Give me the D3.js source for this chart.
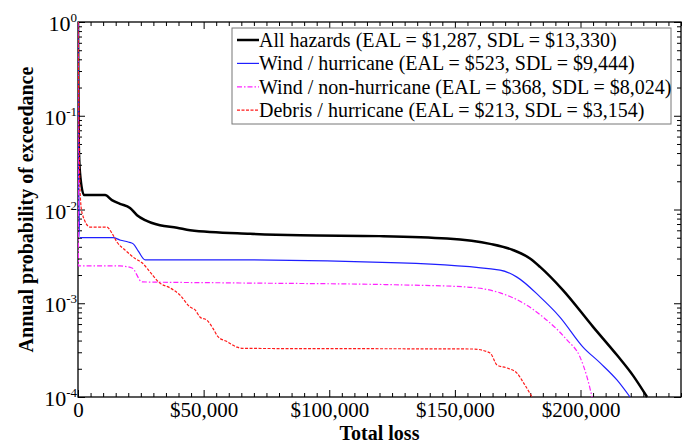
<!DOCTYPE html>
<html><head><meta charset="utf-8">
<script src="https://cdn.jsdelivr.net/npm/d3@7"></script>
<style>
body{margin:0;background:#fff}
svg{display:block}
text{font-family:"Liberation Serif","Times New Roman",serif}
</style>
</head><body>
<svg id="c" width="693" height="444"></svg>
<script>
// ---- data (loss in $, annual probability of exceedance) ----
const seriesNames = [
  "All hazards (EAL = $1,287, SDL = $13,330)",
  "Wind / hurricane (EAL = $523, SDL = $9,444)",
  "Wind / non-hurricane (EAL = $368, SDL = $8,024)",
  "Debris / hurricane (EAL = $213, SDL = $3,154)"
];
const lossAll = [0, 300, 800, 2400, 10750, 13500, 16700, 20700, 23500, 26700, 32600, 39400, 44600, 68500, 88400, 120000, 146900, 164000, 173100, 179900, 183900, 193000, 205000, 214500, 221000, 226500];
const probAll = [1, 0.05, 0.0245, 0.0143, 0.0143, 0.0126, 0.0115, 0.0104, 0.0087, 0.0077, 0.0068, 0.0064, 0.0060, 0.0055, 0.0053, 0.0052, 0.0049, 0.0043, 0.0037, 0.0030, 0.00244, 0.00138, 0.00056, 0.00028, 0.000168, 0.0001];

const lossWindH = [0, 300, 800, 13900, 17000, 20000, 22000, 24000, 26700, 60000, 128200, 168000, 174700, 183900, 191800, 201000, 207800, 214500, 219700];
const probWindH = [1, 0.02, 0.005, 0.005, 0.0047, 0.0045, 0.0043, 0.0036, 0.0029, 0.0029, 0.0027, 0.00226, 0.0019, 0.00117, 0.000713, 0.000341, 0.000231, 0.000152, 0.0001];

const lossWindNH = [0, 200, 16700, 21500, 25500, 60000, 128200, 154800, 168000, 177100, 185100, 194600, 199800, 202600, 204600];
const probWindNH = [1, 0.0025, 0.0025, 0.00238, 0.00169, 0.00165, 0.00157, 0.00149, 0.00129, 0.00101, 0.000713, 0.000406, 0.000267, 0.000163, 0.0001];

const lossDebris = [0, 800, 1600, 4800, 11500, 13500, 15500, 18700, 22700, 25500, 28700, 32600, 36600, 40600, 44600, 46600, 48600, 51300, 53700, 55700, 59300, 63300, 65700, 157200, 164000, 166800, 170700, 174700, 177100, 180700];
const probDebris = [1, 0.0161, 0.0092, 0.0065, 0.0065, 0.0056, 0.0045, 0.0037, 0.0030, 0.0027, 0.00215, 0.00164, 0.00146, 0.00122, 0.00091, 0.00085, 0.00071, 0.00066, 0.00054, 0.00044, 0.00039, 0.00034, 0.00033, 0.000325, 0.000295, 0.000219, 0.000204, 0.00018, 0.000145, 0.0001];

const xTickValues = [0, 50000, 100000, 150000, 200000];
const xTickLabels = ["0", "$50,000", "$100,000", "$150,000", "$200,000"];
const yTickValues = [1, 0.1, 0.01, 0.001, 0.0001];
const yTickExponents = ["0", "-1", "-2", "-3", "-4"];

// ---- layout ----
const L = 78, R = 681, T = 22, B = 397;
const FS = 20;
const svg = d3.select("#c");
const x = d3.scaleLinear().domain([0, 240000]).range([L, R]);
const y = d3.scaleLog().domain([1e-4, 1]).range([B, T]);

const xMinor = d3.range(0, 240001, 5000).filter(v => v % 50000 !== 0);
const yMinor = [];
for (let k = -4; k < 0; k++) for (let m = 2; m <= 9; m++) yMinor.push(m * Math.pow(10, k));

function styleAxis(g) {
  g.select(".domain").remove();
  g.selectAll("line").attr("stroke", "#000").attr("stroke-width", 1);
}
// bottom
svg.append("g").attr("transform", `translate(0,${B})`)
  .call(d3.axisBottom(x).tickValues(xMinor).tickSize(-4).tickFormat("")).call(styleAxis);
svg.append("g").attr("transform", `translate(0,${B})`)
  .call(d3.axisBottom(x).tickValues(xTickValues).tickSize(-7).tickPadding(5)
    .tickFormat((d, i) => xTickLabels[i]))
  .call(styleAxis)
  .call(g => g.selectAll("text").attr("font-size", 21).attr("fill", "#000")
    .attr("font-family", '"Liberation Serif","Times New Roman",serif'));
// top
svg.append("g").attr("transform", `translate(0,${T})`)
  .call(d3.axisTop(x).tickValues(xMinor).tickSize(-4).tickFormat("")).call(styleAxis);
svg.append("g").attr("transform", `translate(0,${T})`)
  .call(d3.axisTop(x).tickValues(xTickValues).tickSize(-7).tickFormat("")).call(styleAxis);
// left
svg.append("g").attr("transform", `translate(${L},0)`)
  .call(d3.axisLeft(y).tickValues(yMinor).tickSize(-4).tickFormat("")).call(styleAxis);
svg.append("g").attr("transform", `translate(${L},0)`)
  .call(d3.axisLeft(y).tickValues(yTickValues).tickSize(-7).tickFormat("")).call(styleAxis);
// right
svg.append("g").attr("transform", `translate(${R},0)`)
  .call(d3.axisRight(y).tickValues(yMinor).tickSize(-4).tickFormat("")).call(styleAxis);
svg.append("g").attr("transform", `translate(${R},0)`)
  .call(d3.axisRight(y).tickValues(yTickValues).tickSize(-7).tickFormat("")).call(styleAxis);

// y tick labels with superscripts
yTickValues.forEach((v, i) => {
  const t = svg.append("text").attr("x", L - 1).attr("y", y(v) + 9)
    .attr("text-anchor", "end").attr("font-size", 22).attr("fill", "#000");
  t.append("tspan").text("10");
  t.append("tspan").attr("font-size", 13).attr("dy", -9).text(yTickExponents[i]);
});

// frame
svg.append("rect").attr("x", L).attr("y", T).attr("width", R - L).attr("height", B - T)
  .attr("fill", "none").attr("stroke", "#000").attr("stroke-width", 1.3);

// clip
svg.append("clipPath").attr("id", "clip").append("rect")
  .attr("x", L).attr("y", T - 1).attr("width", R - L).attr("height", B - T + 2);

const series = [
  {name: seriesNames[0], loss: lossAll, prob: probAll, color: "#000", w: 2.5, dash: null},
  {name: seriesNames[1], loss: lossWindH, prob: probWindH, color: "#1f1fff", w: 1.2, dash: null},
  {name: seriesNames[2], loss: lossWindNH, prob: probWindNH, color: "#ff22ff", w: 1.2, dash: "5,2,1.5,2"},
  {name: seriesNames[3], loss: lossDebris, prob: probDebris, color: "#ff1a1a", w: 1.2, dash: "3,1.5"}
];
const line = d3.line().x(d => x(d[0])).y(d => y(d[1])).curve(d3.curveMonotoneX);
const lg = svg.append("g").attr("clip-path", "url(#clip)");
series.forEach(s => {
  lg.append("path").datum(s.loss.map((l, i) => [l, s.prob[i]]))
    .attr("d", line).attr("fill", "none").attr("stroke", s.color)
    .attr("stroke-width", s.w).attr("stroke-dasharray", s.dash)
    .attr("stroke-linejoin", "round");
});

// legend
const leg = svg.append("g");
leg.append("rect").attr("x", 232).attr("y", 28).attr("width", 439).attr("height", 96)
  .attr("fill", "#fff").attr("stroke", "#777").attr("stroke-width", 1);
series.forEach((s, i) => {
  const yy = 40 + i * 23.4;
  leg.append("line").attr("x1", 237).attr("x2", 259).attr("y1", yy).attr("y2", yy)
    .attr("stroke", s.color).attr("stroke-width", s.w).attr("stroke-dasharray", s.dash);
  leg.append("text").attr("x", 259).attr("y", yy + 7).attr("font-size", FS).attr("fill", "#000").text(s.name);
});

// axis titles
svg.append("text").attr("x", (L + R) / 2).attr("y", 440).attr("text-anchor", "middle")
  .attr("font-size", FS).attr("font-weight", "bold").text("Total loss");
svg.append("text").attr("transform", `translate(33,${(T + B) / 2}) rotate(-90)`)
  .attr("text-anchor", "middle").attr("font-size", FS).attr("font-weight", "bold")
  .text("Annual probability of exceedance");
</script>
</body></html>
